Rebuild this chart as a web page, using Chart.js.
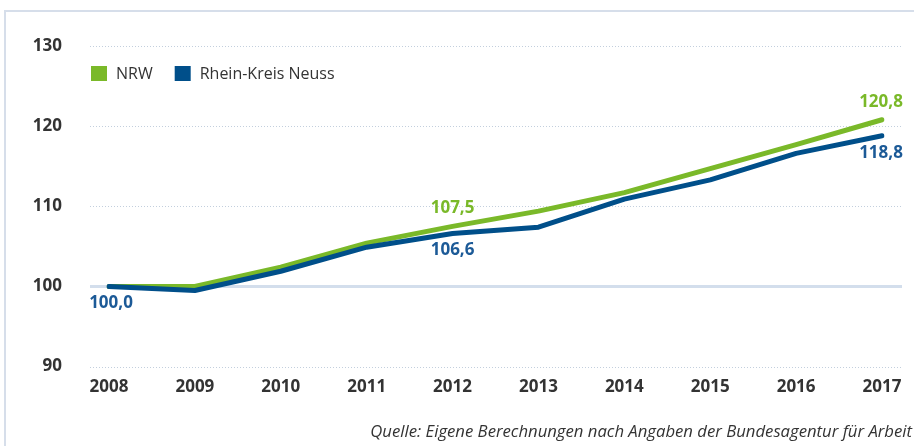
<!DOCTYPE html>
<html lang="de">
<head>
    <meta charset="UTF-8">
    <title>NRW / Rhein-Kreis Neuss</title>
    <script src="https://cdn.jsdelivr.net/npm/chart.js"></script>
    <style>
        html, body { margin: 0; padding: 0; background: #fff; }
        #wrap { width: 914px; height: 446px; }
    </style>
</head>
<body>
    <div id="wrap"><canvas id="lineChart" width="914" height="446"></canvas></div>

    <script>
        // data
        const years = ["2008", "2009", "2010", "2011", "2012", "2013", "2014", "2015", "2016", "2017"];
        const nrw = [100.0, 100.0, 102.4, 105.4, 107.5, 109.4, 111.7, 114.7, 117.7, 120.8];
        const neuss = [100.0, 99.5, 101.9, 104.9, 106.6, 107.4, 110.9, 113.3, 116.6, 118.8];
        const yTicks = [90, 100, 110, 120, 130];
        const seriesNames = ["NRW", "Rhein-Kreis Neuss"];
        const seriesColors = ["#7ab929", "#004f8a"];
        const labelColors = ["#7ab929", "#1c5a97"];
        // which values get a label: [datasetIndex, pointIndex, above?]
        const valueLabels = [[1, 0, false], [0, 4, true], [1, 4, false], [0, 9, true], [1, 9, false]];
        const source = "Quelle: Eigene Berechnungen nach Angaben der Bundesagentur für Arbeit";

        const FONT = "'Open Sans', 'DejaVu Sans', sans-serif";
        const fmt = v => v.toFixed(1).replace(".", ",");

        // frame, grid lines, legend, value labels, source line
        const decor = {
            id: "decor",
            beforeDatasetsDraw(chart) {
                const ctx = chart.ctx;
                const y = chart.scales.y;
                const a = chart.chartArea;
                ctx.save();
                ctx.strokeStyle = "#d6deea";
                ctx.lineWidth = 2;
                ctx.beginPath();
                ctx.moveTo(5, 446);
                ctx.lineTo(5, 11);
                ctx.lineTo(914, 11);
                ctx.stroke();

                yTicks.forEach(t => {
                    const py = Math.round(y.getPixelForValue(t)) + 0.5;
                    ctx.beginPath();
                    if (t === 100) {
                        ctx.setLineDash([]);
                        ctx.strokeStyle = "#d3deec";
                        ctx.lineWidth = 3;
                    } else {
                        ctx.setLineDash([1, 2]);
                        ctx.strokeStyle = "#c3cfdd";
                        ctx.lineWidth = 1;
                    }
                    ctx.moveTo(a.left - 19, py);
                    ctx.lineTo(a.right + 20, py);
                    ctx.stroke();
                });
                ctx.restore();
            },
            afterDraw(chart) {
                const ctx = chart.ctx;
                ctx.save();
                // legend
                ctx.font = "16px " + FONT;
                ctx.textBaseline = "middle";
                let lx = 91;
                seriesNames.forEach((name, i) => {
                    ctx.fillStyle = seriesColors[i];
                    ctx.fillRect(lx, 66, 16, 15);
                    ctx.fillStyle = "#333";
                    ctx.textAlign = "left";
                    ctx.fillText(name, lx + 25, 74);
                    lx += 25 + ctx.measureText(name).width + 22;
                });

                // value labels
                ctx.font = "bold 17px " + FONT;
                ctx.textAlign = "center";
                valueLabels.forEach(([ds, idx, above]) => {
                    const pt = chart.getDatasetMeta(ds).data[idx];
                    const v = chart.data.datasets[ds].data[idx];
                    ctx.fillStyle = labelColors[ds];
                    let x = pt.x;
                    if (idx === years.length - 1) x = pt.x - 1;
                    if (idx === 0) x = pt.x + 2;
                    ctx.fillText(fmt(v), x, above ? pt.y - 18 : pt.y + 17);
                });

                // source
                ctx.font = "italic 16.7px " + FONT;
                ctx.textAlign = "right";
                ctx.fillStyle = "#333";
                ctx.fillText(source, 912, 432);
                ctx.restore();
            }
        };

        new Chart(document.getElementById("lineChart"), {
            type: "line",
            data: {
                labels: years,
                datasets: [
                    { label: seriesNames[0], data: nrw, borderColor: seriesColors[0], order: 1 },
                    { label: seriesNames[1], data: neuss, borderColor: seriesColors[1], order: 0 }
                ]
            },
            options: {
                responsive: false,
                animation: false,
                layout: { padding: { left: 30, right: 32, top: 46, bottom: 39 } },
                elements: {
                    line: { borderWidth: 5, tension: 0, borderCapStyle: "round", borderJoinStyle: "round", fill: false },
                    point: { radius: 0 }
                },
                plugins: { legend: { display: false }, tooltip: { enabled: false } },
                scales: {
                    x: {
                        offset: false,
                        grid: { display: false, drawTicks: false },
                        border: { display: false },
                        ticks: { padding: 10, color: "#333", font: { family: FONT, size: 17, weight: "bold" }, maxRotation: 0 }
                    },
                    y: {
                        min: 90,
                        max: 130,
                        afterBuildTicks: s => { s.ticks = yTicks.map(v => ({ value: v })); },
                        afterFit: s => {
                            s.width = 79;
                            s.paddingTop = 0;
                            s.paddingBottom = 0;
                        },
                        grid: { display: false, drawTicks: false },
                        border: { display: false },
                        ticks: { padding: 47, color: "#333", font: { family: FONT, size: 17, weight: "bold" } }
                    }
                }
            },
            plugins: [decor]
        });
    </script>
</body>
</html>
